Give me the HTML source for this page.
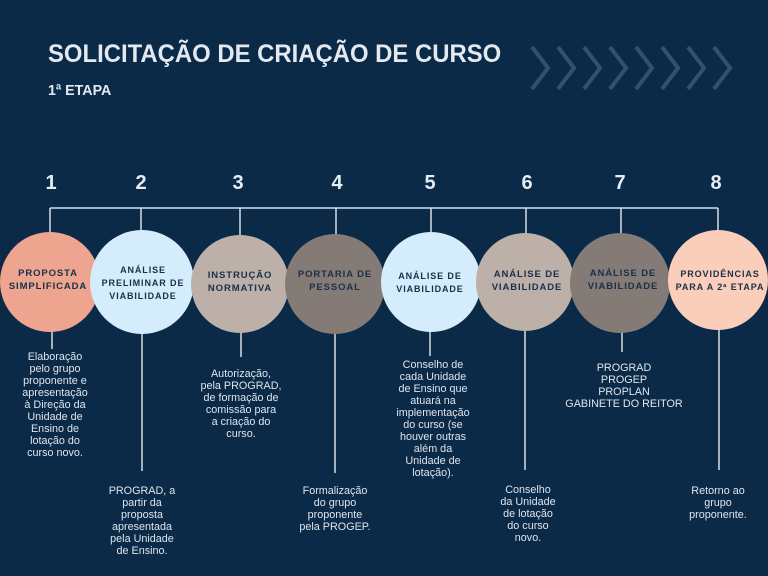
<!DOCTYPE html>
<html><head><meta charset="utf-8"><style>
html,body{margin:0;padding:0}
body{width:768px;height:576px;background:#0b2a47;position:relative;overflow:hidden;font-family:"Liberation Sans",sans-serif}
.t{position:absolute;color:#dde5ee;font-size:10.8px;line-height:12px;text-align:center;width:110px;margin-left:-55px}
.c{position:absolute;color:#1a304a;font-weight:bold;font-size:9.5px;line-height:13px;letter-spacing:0.9px;text-align:center;width:100px;margin-left:-50px}
.n{position:absolute;color:#e6ecf2;font-weight:bold;font-size:20px;width:30px;margin-left:-15px;text-align:center;top:172px}
</style></head><body>
<div style="position:absolute;left:48px;top:40px;color:#e3e9ef;font-weight:bold;font-size:25px;transform:scaleX(0.955);transform-origin:left top;white-space:nowrap">SOLICITAÇÃO DE CRIAÇÃO DE CURSO</div>
<div style="position:absolute;left:48px;top:82px;color:#e3e9ef;font-weight:bold;font-size:15px;transform:scaleX(0.95);transform-origin:left top">1ª ETAPA</div>
<svg width="768" height="576" style="position:absolute;left:0;top:0">
<g fill="none" stroke="#34506e" stroke-width="4">
<polyline points="532,47 548,68 532,89"/><polyline points="558,47 574,68 558,89"/><polyline points="584,47 600,68 584,89"/><polyline points="610,47 626,68 610,89"/><polyline points="636,47 652,68 636,89"/><polyline points="662,47 678,68 662,89"/><polyline points="688,47 704,68 688,89"/><polyline points="714,47 730,68 714,89"/>
</g>
<g stroke="#d8dfe6" stroke-width="1.5" fill="none">
<line x1="50" y1="208" x2="718" y2="208"/>
<line x1="50" y1="208" x2="50" y2="240"/><line x1="141" y1="208" x2="141" y2="232"/><line x1="240" y1="208" x2="240" y2="236"/><line x1="336" y1="208" x2="336" y2="236"/><line x1="431" y1="208" x2="431" y2="232"/><line x1="526" y1="208" x2="526" y2="236"/><line x1="621" y1="208" x2="621" y2="234"/><line x1="718" y1="208" x2="718" y2="230"/>
<line x1="52" y1="325" x2="52" y2="349"/><line x1="142" y1="325" x2="142" y2="471"/><line x1="241" y1="325" x2="241" y2="357"/><line x1="335" y1="325" x2="335" y2="473"/><line x1="430" y1="325" x2="430" y2="356"/><line x1="525" y1="325" x2="525" y2="470"/><line x1="622" y1="325" x2="622" y2="352"/><line x1="719" y1="325" x2="719" y2="470"/>
</g>
<circle cx="50" cy="282" r="50" fill="#eda58f"/>
<circle cx="142" cy="282" r="52" fill="#d4ecfb"/>
<circle cx="240" cy="284" r="49" fill="#bcb0a8"/>
<circle cx="335" cy="284" r="50" fill="#857b76"/>
<circle cx="431" cy="282" r="50" fill="#d4ecfb"/>
<circle cx="525" cy="282" r="49" fill="#bcb0a8"/>
<circle cx="620" cy="283" r="50" fill="#857b76"/>
<circle cx="718" cy="280" r="50" fill="#fbcdbb"/>
</svg>
<div class="n" style="left:51px">1</div><div class="n" style="left:141px">2</div><div class="n" style="left:238px">3</div><div class="n" style="left:337px">4</div><div class="n" style="left:430px">5</div><div class="n" style="left:527px">6</div><div class="n" style="left:620px">7</div><div class="n" style="left:716px">8</div>
<div class="c" style="left:48px;top:267px">PROPOSTA<br>SIMPLIFICADA</div>
<div class="c" style="left:143px;top:264px;font-size:9px;line-height:13px">ANÁLISE<br>PRELIMINAR DE<br>VIABILIDADE</div>
<div class="c" style="left:240px;top:269px">INSTRUÇÃO<br>NORMATIVA</div>
<div class="c" style="left:335px;top:268px">PORTARIA DE<br>PESSOAL</div>
<div class="c" style="left:430px;top:270px;font-size:9px">ANÁLISE DE<br>VIABILIDADE</div>
<div class="c" style="left:527px;top:268px">ANÁLISE DE<br>VIABILIDADE</div>
<div class="c" style="left:623px;top:267px">ANÁLISE DE<br>VIABILIDADE</div>
<div class="c" style="left:720px;top:268px;font-size:9px">PROVIDÊNCIAS<br>PARA A 2ª ETAPA</div>
<div class="t" style="left:55px;top:351px">Elaboração<br>pelo grupo<br>proponente e<br>apresentação<br>à Direção da<br>Unidade de<br>Ensino de<br>lotação do<br>curso novo.</div>
<div class="t" style="left:142px;top:485px">PROGRAD, a<br>partir da<br>proposta<br>apresentada<br>pela Unidade<br>de Ensino.</div>
<div class="t" style="left:241px;top:368px">Autorização,<br>pela PROGRAD,<br>de formação de<br>comissão para<br>a criação do<br>curso.</div>
<div class="t" style="left:335px;top:485px">Formalização<br>do grupo<br>proponente<br>pela PROGEP.</div>
<div class="t" style="left:433px;top:359px">Conselho de<br>cada Unidade<br>de Ensino que<br>atuará na<br>implementação<br>do curso (se<br>houver outras<br>além da<br>Unidade de<br>lotação).</div>
<div class="t" style="left:528px;top:484px">Conselho<br>da Unidade<br>de lotação<br>do curso<br>novo.</div>
<div class="t" style="left:624px;top:362px;width:140px;margin-left:-70px">PROGRAD<br>PROGEP<br>PROPLAN<br>GABINETE DO REITOR</div>
<div class="t" style="left:718px;top:485px">Retorno ao<br>grupo<br>proponente.</div>
</body></html>
